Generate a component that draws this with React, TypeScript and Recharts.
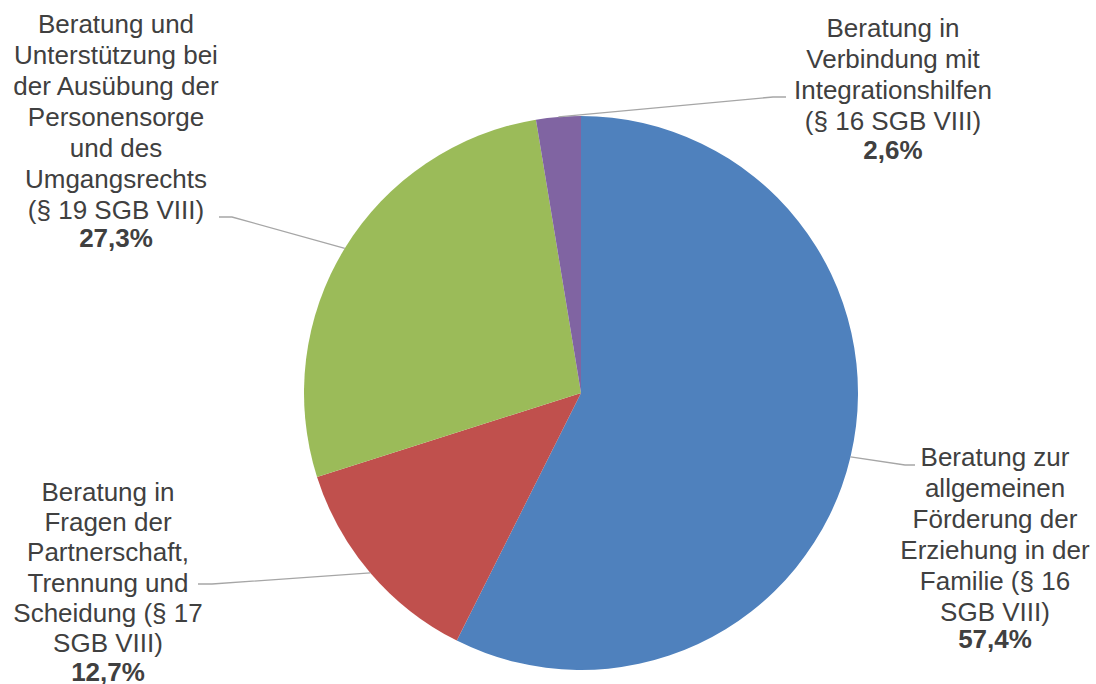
import { PieChart, Pie, Cell } from "recharts";

// slices clockwise from 12 o'clock
const labelLines = [
  ["Beratung zur", "allgemeinen", "Förderung der", "Erziehung in der", "Familie (§ 16", "SGB VIII)"],
  ["Beratung in", "Fragen der", "Partnerschaft,", "Trennung und", "Scheidung (§ 17", "SGB VIII)"],
  ["Beratung und", "Unterstützung bei", "der Ausübung der", "Personensorge", "und des", "Umgangsrechts", "(§ 19 SGB VIII)"],
  ["Beratung in", "Verbindung mit", "Integrationshilfen", "(§ 16 SGB VIII)"],
];
const shares = [57.4, 12.7, 27.3, 2.6];
const percentLabels = ["57,4%", "12,7%", "27,3%", "2,6%"];

const COLORS = ["#4F81BD", "#C0504D", "#9BBB59", "#8064A2"];

// where each label block sits: text centre x, first line centre y, line step, leader elbow + end
const LAYOUT = [
  { tx: 995, ty: 457, lh: 31, pg: 27, ex: 905, ey: 465, hx: 915 },
  { tx: 108, ty: 492, lh: 30.2, pg: 29, ex: 212, ey: 584, hx: 198 },
  { tx: 116, ty: 24, lh: 31, pg: 28, ex: 232, ey: 217, hx: 219 },
  { tx: 893, ty: 28, lh: 31, pg: 29, ex: 773, ey: 97, hx: 786 },
];

const data = shares.map((v, i) => ({ name: labelLines[i].join(" "), value: v }));

const RAD = Math.PI / 180;

function SliceLabel(props: any) {
  const { cx, cy, midAngle, outerRadius, index } = props;
  const l = LAYOUT[index];
  const px = cx + outerRadius * Math.cos(-midAngle * RAD);
  const py = cy + outerRadius * Math.sin(-midAngle * RAD);
  const lines = labelLines[index];
  const lastY = l.ty + (lines.length - 1) * l.lh;
  return (
    <g>
      <polyline
        points={`${px},${py} ${l.ex},${l.ey} ${l.hx},${l.ey}`}
        fill="none"
        stroke="#A6A6A6"
        strokeWidth={1.3}
      />
      <text
        x={l.tx}
        textAnchor="middle"
        fontFamily="'Liberation Sans', Arial, sans-serif"
        fontSize={26}
        fill="#404040"
      >
        {lines.map((s, k) => (
          <tspan key={k} x={l.tx} y={l.ty + k * l.lh} dominantBaseline="central">
            {s}
          </tspan>
        ))}
        <tspan x={l.tx} y={lastY + l.pg} dominantBaseline="central" fontWeight="bold">
          {percentLabels[index]}
        </tspan>
      </text>
    </g>
  );
}

export default function App() {
  return (
    <div style={{ width: 1096, height: 684, background: "#fff" }}>
      <style>{"body{margin:0}"}</style>
      <PieChart width={1096} height={684} margin={{ top: 0, right: 0, bottom: 0, left: 0 }}>
        <Pie
          data={data}
          dataKey="value"
          cx={581}
          cy={393}
          outerRadius={277}
          startAngle={90}
          endAngle={-270}
          stroke="none"
          label={SliceLabel}
          labelLine={false}
          isAnimationActive={false}
        >
          {data.map((d, i) => (
            <Cell key={d.name} fill={COLORS[i]} />
          ))}
        </Pie>
      </PieChart>
    </div>
  );
}
